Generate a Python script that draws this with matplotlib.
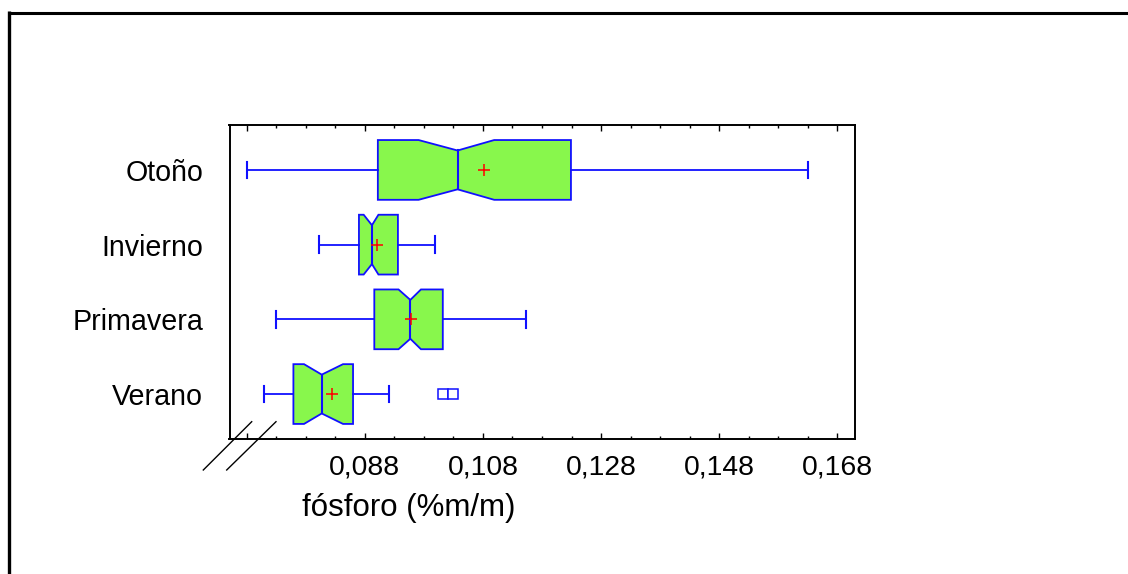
import matplotlib
matplotlib.use("Agg")
import matplotlib.pyplot as plt
from matplotlib.lines import Line2D
import numpy as np

plt.rcParams['font.family'] = ['Liberation Sans', 'DejaVu Sans']

# notched box plot statistics (fósforo, %m/m)
seasons = ["Verano", "Primavera", "Invierno", "Otoño"]
whisker_low = [0.0709, 0.0729, 0.0802, 0.0681]
q1 = [0.0759, 0.0896, 0.0870, 0.0902]
notch_low = [0.0777, 0.0937, 0.0878, 0.0971]
median = [0.0807, 0.0957, 0.0892, 0.1037]
notch_high = [0.0843, 0.0975, 0.0903, 0.1099]
q3 = [0.0860, 0.1012, 0.0936, 0.1229]
whisker_high = [0.0921, 0.1153, 0.0999, 0.1630]
means = [0.0824, 0.0958, 0.0901, 0.1081]
outliers = [[0.1013, 0.1029], [], [], []]

major_ticks = [0.068, 0.088, 0.108, 0.128, 0.148, 0.168]
tick_labels = ["", "0,088", "0,108", "0,128", "0,148", "0,168"]

W, H = 1128, 574
green = '#88f74c'
blue = '#1010ff'

fig = plt.figure(figsize=(W / 100, H / 100), dpi=100)
ax = fig.add_axes([229.5 / W, 1 - 438.5 / H, (855 - 229.5) / W, (438.5 - 124.5) / H])

half = 0.4        # half box height
half_notch = 0.26 # half height at the median
cap = 0.11
lw = 1.3

for i, name in enumerate(seasons):
    y = i + 1
    xs = [q1[i], notch_low[i], median[i], notch_high[i], q3[i],
          q3[i], notch_high[i], median[i], notch_low[i], q1[i]]
    ys = [y - half, y - half, y - half_notch, y - half, y - half,
          y + half, y + half, y + half_notch, y + half, y + half]
    ax.fill(xs, ys, facecolor=green, edgecolor=blue, lw=lw, zorder=2)
    ax.plot([median[i]] * 2, [y - half_notch, y + half_notch], color=blue, lw=lw + 0.2, zorder=3)
    # whiskers and caps
    ax.plot([whisker_low[i], q1[i]], [y, y], color=blue, lw=lw, zorder=2)
    ax.plot([q3[i], whisker_high[i]], [y, y], color=blue, lw=lw, zorder=2)
    ax.plot([whisker_low[i]] * 2, [y - cap, y + cap], color=blue, lw=lw + 0.2, zorder=2)
    ax.plot([whisker_high[i]] * 2, [y - cap, y + cap], color=blue, lw=lw + 0.2, zorder=2)
    # mean
    ax.plot(means[i], y, '+', color='red', ms=8, mew=1.1, zorder=4)
    if outliers[i]:
        ax.plot(outliers[i], [y] * len(outliers[i]), 's', mfc='white', mec=blue,
                ms=7, mew=1.1, zorder=3)

ax.set_xlim(0.06508, 0.171)
ax.set_ylim(0.405, 4.608)

ax.set_xticks(major_ticks, tick_labels)
ax.set_xticks(np.arange(0.073, 0.170, 0.005), minor=True)
ax.tick_params(axis='x', which='both', direction='in', top=True, bottom=True,
               labelsize=20.4, pad=11.5, width=1.0, color='black')
ax.tick_params(axis='x', which='major', length=4.3)
ax.tick_params(axis='x', which='minor', length=2.2)

ax.set_yticks([1, 2, 3, 4], seasons)
ax.tick_params(axis='y', length=0, labelsize=20.6, pad=19)

for s in ax.spines.values():
    s.set_linewidth(1.4)

ax.set_xlabel("fósforo (%m/m)", fontsize=22.5, va='baseline')
ax.xaxis.set_label_coords((408.3 - 229.5) / (855 - 229.5), -(516 - 438.5) / (438.5 - 124.5))


def px(xp, yp):
    return xp / W, 1 - yp / H


# axis break marks
for x0, x1 in [(203.3, 251.7), (226.7, 276.0)]:
    (a, b), (c, d) = px(x0, 470), px(x1, 421.7)
    fig.add_artist(Line2D([a, c], [b, d], color='black', lw=1.0))

# outer frame (top and left edges)
(a, b), (c, d) = px(8, 12.5), px(1128, 12.5)
fig.add_artist(Line2D([a, c], [b, d], color='black', lw=2.2, solid_capstyle='butt'))
(a, b), (c, d) = px(9, 11), px(9, 574)
fig.add_artist(Line2D([a, c], [b, d], color='black', lw=2.4, solid_capstyle='butt'))

fig.savefig("out.png", dpi=100)
